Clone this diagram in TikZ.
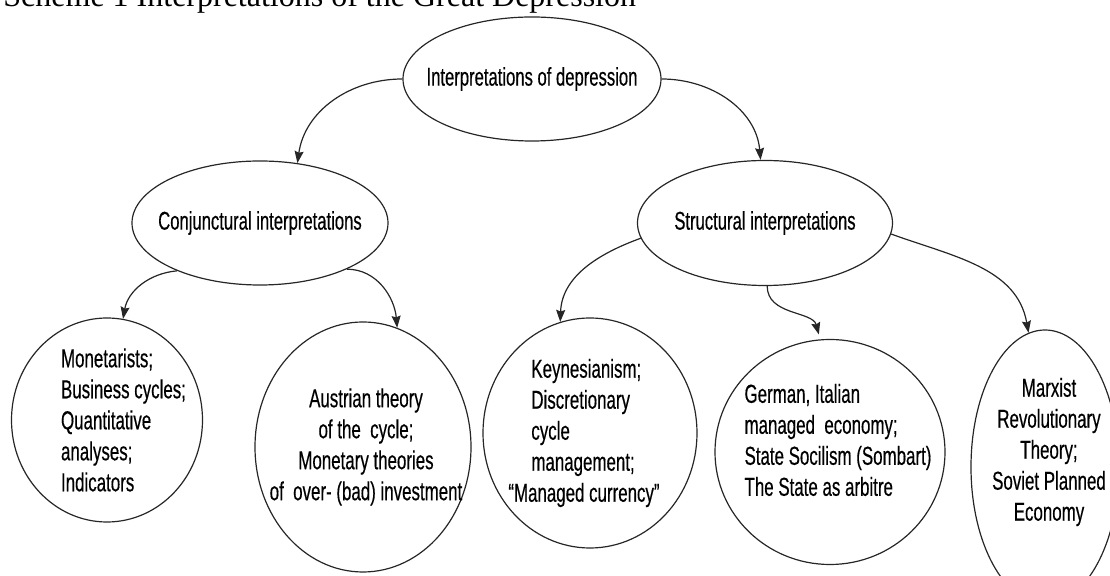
\documentclass[tikz,border=0pt]{standalone}
\usepackage{fontspec}
\setmainfont{Liberation Sans}
\newfontfamily\narrowfont{Liberation Sans}[FakeStretch=0.65, FakeBold=0.4]
\newfontfamily\titlefont{Liberation Serif}
\usetikzlibrary{shapes.geometric, arrows.meta}

\begin{document}
\begin{tikzpicture}[x=0.5pt, y=-0.5pt,
    oval/.style={ellipse, draw=black!85, line width=0.6pt, inner sep=0pt},
    toptext/.style={font=\narrowfont\fontsize{12.8}{15}\selectfont, align=center},
    bottext/.style={font=\narrowfont\fontsize{13}{15.5}\selectfont},
    arr/.style={draw=black!85, line width=0.6pt, -{Stealth[length=6pt, width=4.5pt, inset=0.8pt]}}]

    % Frame
    \useasboundingbox (0,0) rectangle (1110,576);

    % Title
    \node[anchor=base west, inner sep=0pt, font=\titlefont\fontsize{16}{18}\selectfont] (title) at (3,7)
        {Scheme 1 Interpretations of the Great Depression};

    % Top levels
    \node[oval, minimum width=129pt, minimum height=62pt,
        label={[toptext]center:Interpretations of depression}] (root) at (532,79) {};
    \node[oval, minimum width=128pt, minimum height=62pt,
        label={[toptext]center:Conjunctural interpretations}] (conj) at (260,223) {};
    \node[oval, minimum width=127.5pt, minimum height=62.5pt,
        label={[toptext]center:Structural interpretations}] (struct) at (765,223) {};

    % Bottom level
    \node[oval, minimum width=95.5pt, minimum height=102pt,
        label={[bottext, align=left, xshift=8.25pt]center:{Monetarists;\\Business cycles;\\Quantitative\\analyses;\\Indicators}}] (mon) at (107,420) {};
    \node[oval, minimum width=108pt, minimum height=125pt,
        label={[bottext, align=center, xshift=1.5pt]center:{Austrian theory\\of the\ \ cycle;\\Monetary theories\\of\ \ over- (bad) investment}}] (aus) at (363,447) {};
    \node[oval, minimum width=107pt, minimum height=115pt,
        label={[bottext, align=left, xshift=2.75pt]center:{Keynesianism;\\Discretionary\\cycle\\management;\\\hspace*{-11.5pt}“Managed currency”}}] (key) at (590,433) {};
    \node[oval, minimum width=115pt, minimum height=112.5pt,
        label={[bottext, align=left, xshift=4pt, yshift=6pt]center:{German, Italian\\managed\ \ economy;\\State Socilism (Sombart)\\The State as arbitre}}] (ger) at (830,452) {};
    \node[oval, minimum width=74pt, minimum height=137pt,
        label={[bottext, align=center, xshift=2pt, yshift=7.5pt]center:{Marxist\\Revolutionary\\Theory;\\Soviet Planned\\Economy}}] (marx) at (1045,467) {};

    % Arrows
    \draw[arr] (root.west) to[out=180, in=82] (conj.58);
    \draw[arr] (root.east) to[out=0, in=95] (struct.94);
    \draw[arr] (conj.210) to[out=185, in=80] (mon.81);
    \draw[arr] (conj.332) to[out=0, in=95] (aus.74);
    \draw[arr] (struct.187) to[out=200, in=88] (key.105);
    \draw[arr, shorten >=2.5pt] (struct.272) to[out=270, in=105] (ger.95);
    \draw[arr] (struct.355) to[out=-20, in=100] (marx.97);
\end{tikzpicture}
\end{document}
